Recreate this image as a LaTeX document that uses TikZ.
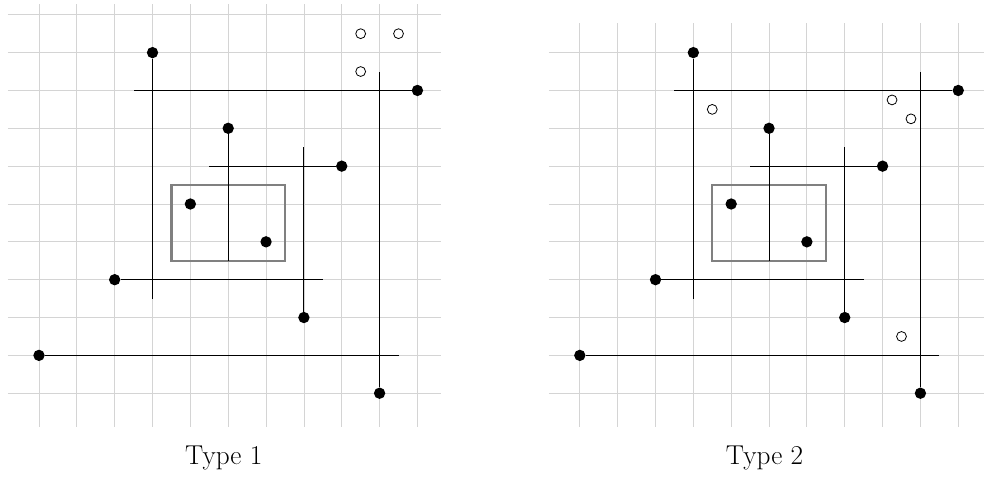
\documentclass[tikz,border=0pt]{standalone}
\usepackage{tikz}
\usetikzlibrary{positioning}

\begin{document}
\begin{tikzpicture}
\tikzstyle{gridline} = [black!17, line width=0.6pt]
\tikzstyle{dot} = [circle, fill=black, inner sep=0pt, minimum size=0.3cm]
\tikzstyle{hole} = [circle, draw=black, fill=white, line width=0.6pt, inner sep=0pt, minimum size=0.26cm]
\tikzstyle{seg} = [black, line width=0.7pt]
\tikzstyle{query} = [black!50, line width=1.7pt]
\tikzstyle{caption} = [anchor=base, font=\fontsize{20.5}{24}\selectfont]

\useasboundingbox (-0.03,-1.21) rectangle (25.97,11.39);

% grids
\draw[gridline, step=1] (0.18,0.12) grid (11.62,11.28);
\begin{scope}[xshift=14.29cm]
\draw[gridline, step=1] (0.18,0.12) grid (11.68,10.79);
\end{scope}

% same points and segments in both panels
\foreach \s/\t in {0/1, 14.29/2} {
\begin{scope}[xshift=\s cm]
\draw[query] (4.5,4.5) rectangle (7.5,6.5);

\coordinate (e1\t) at (4,3.5);
\coordinate (e2\t) at (3.5,9);
\coordinate (e3\t) at (6,4.5);
\coordinate (e4\t) at (5.5,7);
\coordinate (e5\t) at (8.5,4);
\coordinate (e6\t) at (8,7.5);
\coordinate (e7\t) at (10.5,2);
\coordinate (e8\t) at (10,9.5);

\node[dot] (a\t) at (4,10) {};
\node[dot] (b\t) at (11,9) {};
\node[dot] (c\t) at (6,8) {};
\node[dot] (d\t) at (9,7) {};
\node[dot] (f\t) at (5,6) {};
\node[dot] (g\t) at (7,5) {};
\node[dot] (h\t) at (3,4) {};
\node[dot] (i\t) at (8,3) {};
\node[dot] (j\t) at (1,2) {};
\node[dot] (k\t) at (10,1) {};

\draw[seg] (a\t) -- (e1\t);
\draw[seg] (b\t) -- (e2\t);
\draw[seg] (c\t) -- (e3\t);
\draw[seg] (d\t) -- (e4\t);
\draw[seg] (h\t) -- (e5\t);
\draw[seg] (i\t) -- (e6\t);
\draw[seg] (j\t) -- (e7\t);
\draw[seg] (k\t) -- (e8\t);

\node[caption] (cap\t) at (5.88,-0.89) {Type \t};
\end{scope}
}

% open points, type 1
\node[hole] (o1) at (9.5,10.5) {};
\node[hole] (o2) at (10.5,10.5) {};
\node[hole] (o3) at (9.5,9.5) {};

% open points, type 2
\begin{scope}[xshift=14.29cm]
\node[hole] (q1) at (4.5,8.5) {};
\node[hole] (q2) at (9.25,8.75) {};
\node[hole] (q3) at (9.75,8.25) {};
\node[hole] (q4) at (9.5,2.5) {};
\end{scope}
\end{tikzpicture}
\end{document}
